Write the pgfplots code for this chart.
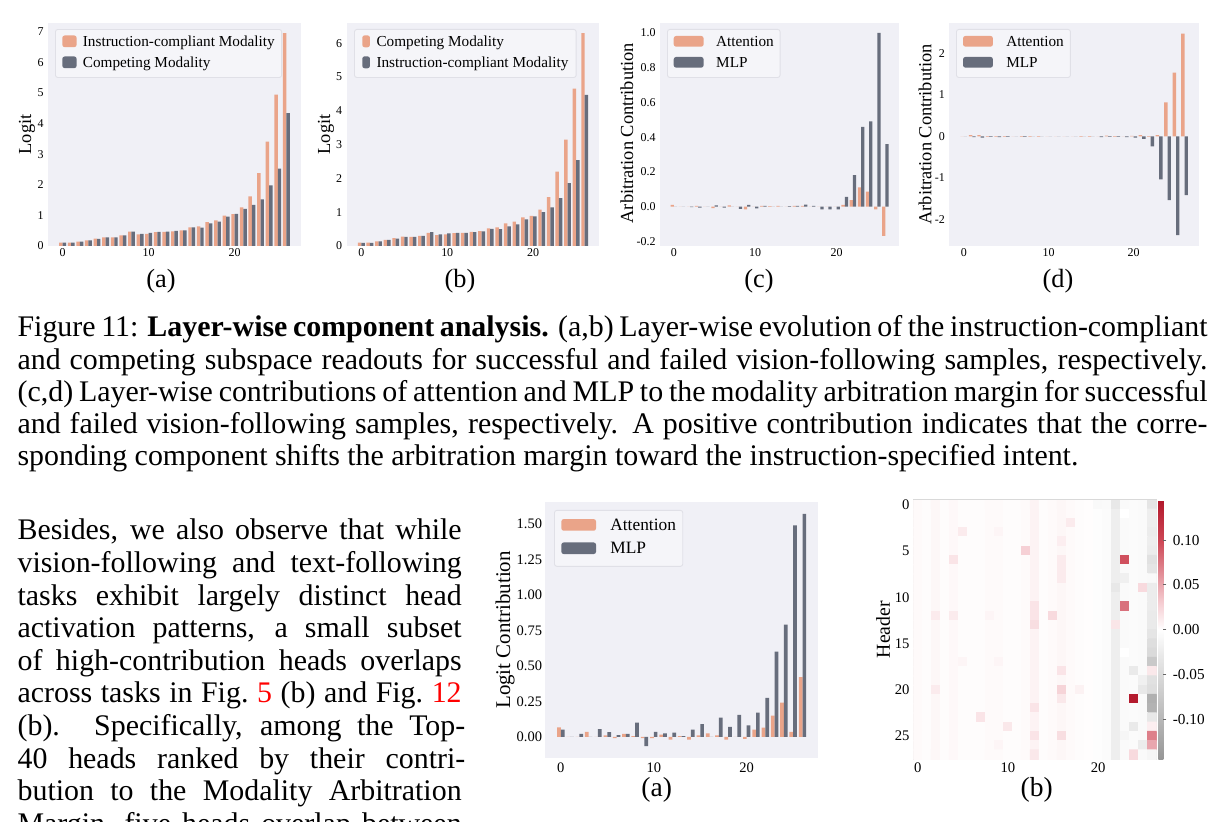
\documentclass[border=0pt]{standalone}
\usepackage{fontspec}
\setmainfont{Liberation Serif}
\usepackage{pgfplots}
\pgfplotsset{compat=1.18}
\definecolor{c1}{RGB}{234,164,137}
\definecolor{c2}{RGB}{103,109,124}
\definecolor{bgc}{RGB}{240,240,246}
\definecolor{legbg}{RGB}{245,245,249}
\definecolor{legedge}{RGB}{224,224,231}
\pgfplotsset{
 colormap={hm}{rgb255(0pt)=(150,150,150) rgb255(7.5pt)=(205,205,205) rgb255(11.5pt)=(232,232,232) rgb255(14.5pt)=(255,255,255) rgb255(17.5pt)=(245,205,210) rgb255(21.5pt)=(222,128,138) rgb255(24.5pt)=(205,70,85) rgb255(29pt)=(178,24,43)},
 barax/.style={
  scale only axis, anchor=south west,
  axis background/.style={fill=bgc},
  axis line style={draw=none},
  tick style={draw=none},
  major tick length=0pt,
  enlargelimits=false,
  xmin=-1.7, xmax=27.7,
  xtick={0,10,20},
  scaled y ticks=false,
  /pgf/number format/assume math mode=true,
  tick label style={font=\fontsize{4}{4.5}\selectfont},
  yticklabel style={anchor=east, inner sep=0pt, xshift=-1.3pt},
  xticklabel style={anchor=north, inner sep=0pt, yshift=-0.75pt},
  ylabel style={font=\fontsize{6.15}{7}\selectfont, anchor=center},
  legend cell align=left,
  legend style={draw=legedge, fill=legbg, line width=0.3pt, rounded corners=0.8pt,
    inner xsep=2.2pt, inner ysep=1.5pt, font=\fontsize{5.1}{6}\selectfont, row sep=0.97pt,
    cells={anchor=base west},
    nodes={inner xsep=0pt, inner ysep=0.6pt, text height=3.57pt, text depth=1.28pt},
    anchor=north west},
 },
}
\begin{document}
\begin{tikzpicture}
\useasboundingbox (0,0) rectangle (409.64pt,-274.88pt);
\begin{scope}[x=0.3344pt,y=-0.3344pt]
% caption
\node[anchor=base west, inner sep=0pt] at (17,336.7) {\makebox[397.9pt][s]{Figure 11: \textbf{Layer-wise component analysis.} (a,b) Layer-wise evolution of the instruction-compliant}};
\node[anchor=base west, inner sep=0pt] at (17,369.3) {\makebox[397.9pt][s]{and competing subspace readouts for successful and failed vision-following samples, respectively.}};
\node[anchor=base west, inner sep=0pt] at (17,401.7) {\makebox[397.9pt][s]{(c,d) Layer-wise contributions of attention and MLP to the modality arbitration margin for successful}};
\node[anchor=base west, inner sep=0pt] at (17,433.3) {\makebox[397.9pt][s]{and failed vision-following samples, respectively. A positive contribution indicates that the corre-}};
\node[anchor=base west, inner sep=0pt] at (17,465.7) {sponding component shifts the arbitration margin toward the instruction-specified intent.};
% body
\node[anchor=base west, inner sep=0pt] at (17,540.0) {\makebox[148.5pt][s]{Besides, we also observe that while}};
\node[anchor=base west, inner sep=0pt] at (17,572.6) {\makebox[148.5pt][s]{vision-following and text-following}};
\node[anchor=base west, inner sep=0pt] at (17,605.2) {\makebox[148.5pt][s]{tasks exhibit largely distinct head}};
\node[anchor=base west, inner sep=0pt] at (17,637.8) {\makebox[148.5pt][s]{activation patterns, a small subset}};
\node[anchor=base west, inner sep=0pt] at (17,670.4) {\makebox[148.5pt][s]{of high-contribution heads overlaps}};
\node[anchor=base west, inner sep=0pt] at (17,703.0) {\makebox[148.5pt][s]{across tasks in Fig.~\textcolor{red}{5} (b) and Fig.~\textcolor{red}{12}}};
\node[anchor=base west, inner sep=0pt] at (17,735.6) {\makebox[149.7pt][s]{(b). Specifically, among the Top-}};
\node[anchor=base west, inner sep=0pt] at (17,768.2) {\makebox[149.7pt][s]{40 heads ranked by their contri-}};
\node[anchor=base west, inner sep=0pt] at (17,800.8) {\makebox[148.5pt][s]{bution to the Modality Arbitration}};
\node[anchor=base west, inner sep=0pt] at (17,833.4) {\makebox[148.5pt][s]{Margin, five heads overlap between}};
% subcaptions
\node[font=\fontsize{8.8}{10}\selectfont] at (161,281) {(a)};
\node[font=\fontsize{8.8}{10}\selectfont] at (460,281) {(b)};
\node[font=\fontsize{8.8}{10}\selectfont] at (759,281) {(c)};
\node[font=\fontsize{8.8}{10}\selectfont] at (1058,281) {(d)};
\node[font=\fontsize{9.2}{10}\selectfont] at (656.7,790) {(a)};
\node[font=\fontsize{9.2}{10}\selectfont] at (1036.7,790) {(b)};
\end{scope}

% ---------- top (a)
\begin{axis}[barax, at={(16.05pt,-82.26pt)}, width=84.60pt, height=74.67pt,
 ymin=0, ymax=7.3, ytick={0,1,2,3,4,5,6,7},
 ylabel={Logit}, ylabel style={at={(axis description cs:-0.083,0.5)}},
 legend style={at={(0.0277,0.9718)}, inner xsep=2.3pt, /tikz/every odd column/.append style={column sep=2.1pt}},
 legend image code/.code={\draw[#1,draw=none] (0pt,-0.25pt) rectangle (4.78pt,3.66pt);},
]
\addplot[ybar, bar width=0.4, bar shift=-0.2, fill=c1, draw=none] coordinates {(0,0.11)(1,0.11)(2,0.14)(3,0.18)(4,0.24)(5,0.28)(6,0.28)(7,0.35)(8,0.47)(9,0.38)(10,0.40)(11,0.45)(12,0.46)(13,0.48)(14,0.51)(15,0.61)(16,0.64)(17,0.78)(18,0.84)(19,0.99)(20,1.04)(21,1.26)(22,1.62)(23,2.38)(24,3.41)(25,4.95)(26,6.96)};
\addplot[ybar, bar width=0.4, bar shift=0.2, fill=c2, draw=none] coordinates {(0,0.11)(1,0.11)(2,0.14)(3,0.18)(4,0.23)(5,0.28)(6,0.28)(7,0.35)(8,0.47)(9,0.40)(10,0.43)(11,0.46)(12,0.47)(13,0.49)(14,0.51)(15,0.61)(16,0.60)(17,0.74)(18,0.80)(19,0.96)(20,1.05)(21,1.21)(22,1.34)(23,1.52)(24,1.98)(25,2.53)(26,4.34)};
\legend{Instruction-compliant Modality, Competing Modality}
\end{axis}

% ---------- top (b)
\begin{axis}[barax, at={(115.94pt,-82.26pt)}, width=84.47pt, height=74.67pt,
 ymin=0, ymax=6.61, ytick={0,1,2,3,4,5,6},
 ylabel={Logit}, ylabel style={at={(axis description cs:-0.082,0.5)}},
 legend style={at={(0.029,0.9718)}, inner xsep=2.6pt, /tikz/every odd column/.append style={column sep=2.2pt}},
 legend image code/.code={\draw[#1,draw=none] (0pt,-0.3pt) rectangle (2.57pt,3.7pt);},
]
\addplot[ybar, bar width=0.4, bar shift=-0.2, fill=c1, draw=none] coordinates {(0,0.10)(1,0.10)(2,0.14)(3,0.18)(4,0.23)(5,0.28)(6,0.27)(7,0.30)(8,0.39)(9,0.32)(10,0.34)(11,0.38)(12,0.39)(13,0.42)(14,0.44)(15,0.52)(16,0.55)(17,0.67)(18,0.72)(19,0.85)(20,0.89)(21,1.08)(22,1.45)(23,2.20)(24,3.15)(25,4.66)(26,6.30)};
\addplot[ybar, bar width=0.4, bar shift=0.2, fill=c2, draw=none] coordinates {(0,0.09)(1,0.09)(2,0.14)(3,0.18)(4,0.22)(5,0.27)(6,0.27)(7,0.30)(8,0.41)(9,0.34)(10,0.37)(11,0.39)(12,0.39)(13,0.41)(14,0.43)(15,0.51)(16,0.50)(17,0.58)(18,0.64)(19,0.79)(20,0.88)(21,1.00)(22,1.14)(23,1.42)(24,1.86)(25,2.54)(26,4.47)};
\legend{Competing Modality, Instruction-compliant Modality}
\end{axis}

% ---------- top (c)
\begin{axis}[barax, at={(220.70pt,-82.26pt)}, width=80.02pt, height=74.67pt,
 ymin=-0.226, ymax=1.058, ytick={-0.2,0,0.2,0.4,0.6,0.8,1.0},
 yticklabel style={/pgf/number format/fixed, /pgf/number format/fixed zerofill, /pgf/number format/precision=1},
 ylabel={Arbitration Contribution}, ylabel style={at={(axis description cs:-0.139,0.505)}},
 legend style={at={(0.0293,0.9718)}, inner xsep=2.1pt, /tikz/every odd column/.append style={column sep=4.2pt}},
 legend image code/.code={\draw[#1,draw=none] (0pt,-0.09pt) rectangle (10pt,3.49pt);},
]
\addplot[ybar, bar width=0.4, bar shift=-0.2, fill=c1, draw=none] coordinates {(0,0.01)(1,0)(2,0)(3,0.005)(4,0)(5,-0.008)(6,0)(7,0.008)(8,0)(9,-0.015)(10,0)(11,0.005)(12,0.003)(13,0.005)(14,0)(15,0.005)(16,0.005)(17,0)(18,0)(19,0)(20,0)(21,0.01)(22,0.038)(23,0.111)(24,0.086)(25,-0.015)(26,-0.168)};
\addplot[ybar, bar width=0.4, bar shift=0.2, fill=c2, draw=none] coordinates {(0,0)(1,0)(2,-0.003)(3,-0.005)(4,0)(5,0.008)(6,-0.005)(7,0)(8,-0.012)(9,0.01)(10,-0.01)(11,0.005)(12,0)(13,0)(14,0.003)(15,0.005)(16,0.012)(17,0.005)(18,-0.015)(19,-0.015)(20,-0.015)(21,0.057)(22,0.182)(23,0.459)(24,0.49)(25,1.0)(26,0.36)};
\legend{Attention, MLP}
\end{axis}

% ---------- top (d)
\begin{axis}[barax, at={(317.45pt,-82.26pt)}, width=83.50pt, height=74.67pt,
 ymin=-2.645, ymax=2.745, ytick={-2,-1,0,1,2},
 ylabel={Arbitration Contribution}, ylabel style={at={(axis description cs:-0.097,0.5)}},
 legend style={at={(0.0268,0.9718)}, inner xsep=2.2pt, /tikz/every odd column/.append style={column sep=4.45pt}},
 legend image code/.code={\draw[#1,draw=none] (0pt,-0.09pt) rectangle (10pt,3.49pt);},
]
\addplot[ybar, bar width=0.4, bar shift=-0.2, fill=c1, draw=none] coordinates {(0,0)(1,0.03)(2,0.03)(3,-0.01)(4,-0.01)(5,-0.01)(6,0)(7,-0.01)(8,-0.01)(9,-0.01)(10,0)(11,0)(12,0)(13,0)(14,-0.01)(15,-0.01)(16,0)(17,0.02)(18,-0.01)(19,0)(20,0.01)(21,0.03)(22,-0.01)(23,0.03)(24,0.82)(25,1.54)(26,2.48)};
\addplot[ybar, bar width=0.4, bar shift=0.2, fill=c2, draw=none] coordinates {(0,0)(1,-0.02)(2,-0.03)(3,-0.01)(4,-0.02)(5,-0.01)(6,0)(7,-0.01)(8,0)(9,0)(10,0)(11,0)(12,0)(13,0)(14,0)(15,0)(16,-0.02)(17,-0.01)(18,-0.01)(19,-0.02)(20,-0.03)(21,-0.06)(22,-0.24)(23,-1.04)(24,-1.54)(25,-2.38)(26,-1.42)};
\legend{Attention, MLP}
\end{axis}

% ---------- bottom (a)
\begin{axis}[barax, at={(182.25pt,-253.37pt)}, width=91.39pt, height=85.41pt,
 ymin=-0.147, ymax=1.652, ytick={0,0.25,0.5,0.75,1,1.25,1.5},
 tick label style={font=\fontsize{4.85}{5.5}\selectfont},
 yticklabel style={xshift=0.53pt, /pgf/number format/fixed, /pgf/number format/fixed zerofill, /pgf/number format/precision=2},
 xticklabel style={yshift=-0.85pt},
 ylabel={Logit Contribution}, ylabel style={at={(axis description cs:-0.146,0.5)}, font=\fontsize{7}{8}\selectfont},
 legend style={at={(0.033,0.970)}, font=\fontsize{5.8}{7}\selectfont, inner xsep=2.3pt, inner ysep=2.1pt, row sep=1.09pt,
   nodes={text height=4.06pt, text depth=1.45pt}, /tikz/every odd column/.append style={column sep=4.8pt}},
 legend image code/.code={\draw[#1,draw=none] (0pt,-0.05pt) rectangle (11.6pt,3.85pt);},
]
\addplot[ybar, bar width=0.4, bar shift=-0.2, fill=c1, draw=none] coordinates {(0,0.066)(1,0)(2,0)(3,0.035)(4,0)(5,0.01)(6,-0.01)(7,0.02)(8,0.005)(9,-0.01)(10,-0.01)(11,0.015)(12,-0.02)(13,0.005)(14,-0.02)(15,0.01)(16,0.025)(17,0.01)(18,-0.02)(19,0)(20,-0.015)(21,0.05)(22,0.065)(23,0.15)(24,0.24)(25,0.035)(26,0.42)};
\addplot[ybar, bar width=0.4, bar shift=0.2, fill=c2, draw=none] coordinates {(0,0.05)(1,0)(2,0.02)(3,0)(4,0.055)(5,0.033)(6,0.012)(7,0.02)(8,0.1)(9,-0.065)(10,0.035)(11,0.025)(12,0.03)(13,0.005)(14,0.05)(15,0.09)(16,0)(17,0.135)(18,0.07)(19,0.155)(20,0.08)(21,0.17)(22,0.275)(23,0.6)(24,0.79)(25,1.49)(26,1.57)};
\legend{Attention, MLP}
\end{axis}

% ---------- heatmap (b)
\begin{axis}[scale only axis, anchor=south west, at={(305.41pt,-253.91pt)}, width=81.39pt, height=86.71pt,
 enlargelimits=false, xmin=-0.5, xmax=26.5, ymin=-0.5, ymax=27.5, y dir=reverse,
 xtick={0,10,20}, ytick={0,5,10,15,20,25},
 axis line style={draw=black!15, line width=0.4pt}, tick style={draw=none}, major tick length=0pt,
 /pgf/number format/assume math mode=true,
 tick label style={font=\fontsize{4.9}{5.5}\selectfont},
 yticklabel style={anchor=east, inner sep=0pt, xshift=-1.1pt},
 xticklabel style={anchor=north, inner sep=0pt, yshift=-1.07pt},
 ylabel={Header}, ylabel style={at={(axis description cs:-0.124,0.5)}, anchor=center, font=\fontsize{6.6}{7.5}\selectfont},
 colormap name=hm, point meta min=-0.145, point meta max=0.145,
 colorbar,
 colorbar style={at={(parent axis.north east)}, anchor=north west, xshift=-8.0pt, scale only axis, width=1.67pt,
   axis line style={draw=none}, ytick={-0.1,-0.05,0,0.05,0.1}, ytick pos=right, yticklabel pos=right,
   tick align=outside, major tick length=1pt, tick style={draw=black!60, line width=0.3pt},
   /pgf/number format/assume math mode=true,
   yticklabel style={font=\fontsize{5.1}{6}\selectfont, anchor=west, inner sep=0pt, xshift=2.0pt,
     /pgf/number format/fixed, /pgf/number format/fixed zerofill, /pgf/number format/precision=2}},
]
\addplot[matrix plot*, mesh/cols=27, mesh/rows=28, point meta=explicit] coordinates {
(0,0)[0.003] (1,0)[0.002] (2,0)[0.005] (3,0)[0.002] (4,0)[0.004] (5,0)[0.002] (6,0)[0.002] (7,0)[0.002] (8,0)[0.003] (9,0)[0.003] (10,0)[0.002] (11,0)[0.002] (12,0)[0.003] (13,0)[0.007] (14,0)[0.002] (15,0)[0.003] (16,0)[0.005] (17,0)[0.003] (18,0)[0.002] (19,0)[0.001] (20,0)[-0.008] (21,0)[-0.006] (22,0)[-0.03] (23,0)[-0.006] (24,0)[-0.005] (25,0)[-0.007] (26,0)[-0.035]
(0,1)[0.003] (1,1)[0.002] (2,1)[0.005] (3,1)[0.002] (4,1)[0.004] (5,1)[0.002] (6,1)[0.002] (7,1)[0.002] (8,1)[0.003] (9,1)[0.003] (10,1)[0.002] (11,1)[0.002] (12,1)[0.003] (13,1)[0.007] (14,1)[0.002] (15,1)[0.003] (16,1)[0.005] (17,1)[0.003] (18,1)[0.002] (19,1)[0.001] (20,1)[-0.003] (21,1)[-0.005] (22,1)[-0.022] (23,1)[0] (24,1)[-0.005] (25,1)[-0.007] (26,1)[-0.022]
(0,2)[0.003] (1,2)[0.002] (2,2)[0.005] (3,2)[0.002] (4,2)[0.004] (5,2)[0.002] (6,2)[0.002] (7,2)[0.002] (8,2)[0.003] (9,2)[0.003] (10,2)[0.002] (11,2)[0.002] (12,2)[0.003] (13,2)[0.007] (14,2)[0.002] (15,2)[0.003] (16,2)[0.005] (17,2)[0.012] (18,2)[0.002] (19,2)[0.001] (20,2)[-0.003] (21,2)[-0.005] (22,2)[-0.022] (23,2)[-0.006] (24,2)[-0.005] (25,2)[-0.007] (26,2)[-0.022]
(0,3)[0.003] (1,3)[0.002] (2,3)[0.005] (3,3)[0.002] (4,3)[0.004] (5,3)[0.012] (6,3)[0.002] (7,3)[0.002] (8,3)[0.003] (9,3)[0.006] (10,3)[0.002] (11,3)[0.002] (12,3)[0.003] (13,3)[0.007] (14,3)[0.002] (15,3)[0.003] (16,3)[0.005] (17,3)[0.003] (18,3)[0.002] (19,3)[0.001] (20,3)[-0.003] (21,3)[-0.005] (22,3)[-0.022] (23,3)[-0.006] (24,3)[-0.005] (25,3)[-0.007] (26,3)[-0.025]
(0,4)[0.003] (1,4)[0.002] (2,4)[0.005] (3,4)[0.002] (4,4)[0.004] (5,4)[0.002] (6,4)[0.002] (7,4)[0.002] (8,4)[0.003] (9,4)[0.003] (10,4)[0.002] (11,4)[0.002] (12,4)[0.003] (13,4)[0.007] (14,4)[0.002] (15,4)[0.003] (16,4)[0.01] (17,4)[0.003] (18,4)[0.002] (19,4)[0.001] (20,4)[-0.003] (21,4)[-0.005] (22,4)[-0.022] (23,4)[-0.006] (24,4)[-0.005] (25,4)[-0.007] (26,4)[-0.022]
(0,5)[0.003] (1,5)[0.002] (2,5)[0.005] (3,5)[0.002] (4,5)[0.004] (5,5)[0.002] (6,5)[0.002] (7,5)[0.002] (8,5)[0.003] (9,5)[0.003] (10,5)[0.002] (11,5)[0.002] (12,5)[0.028] (13,5)[0.007] (14,5)[0.002] (15,5)[0.003] (16,5)[0.005] (17,5)[0.003] (18,5)[0.002] (19,5)[0.001] (20,5)[-0.003] (21,5)[-0.005] (22,5)[-0.022] (23,5)[-0.006] (24,5)[-0.005] (25,5)[-0.007] (26,5)[-0.025]
(0,6)[0.003] (1,6)[0.002] (2,6)[0.005] (3,6)[0.002] (4,6)[0.016] (5,6)[0.002] (6,6)[0.002] (7,6)[0.002] (8,6)[0.003] (9,6)[0.003] (10,6)[0.002] (11,6)[0.002] (12,6)[0.003] (13,6)[0.007] (14,6)[0.002] (15,6)[0.003] (16,6)[0.012] (17,6)[0.003] (18,6)[0.002] (19,6)[0.001] (20,6)[-0.003] (21,6)[-0.005] (22,6)[-0.022] (23,6)[0.095] (24,6)[-0.005] (25,6)[-0.007] (26,6)[-0.04]
(0,7)[0.003] (1,7)[0.002] (2,7)[0.005] (3,7)[0.002] (4,7)[0.004] (5,7)[0.002] (6,7)[0.002] (7,7)[0.002] (8,7)[0.003] (9,7)[0.003] (10,7)[0.002] (11,7)[0.002] (12,7)[0.003] (13,7)[0.007] (14,7)[0.002] (15,7)[0.003] (16,7)[0.012] (17,7)[0.003] (18,7)[0.002] (19,7)[0.001] (20,7)[-0.003] (21,7)[-0.005] (22,7)[-0.022] (23,7)[-0.006] (24,7)[-0.005] (25,7)[-0.007] (26,7)[-0.035]
(0,8)[0.003] (1,8)[0.002] (2,8)[0.005] (3,8)[0.002] (4,8)[0.004] (5,8)[0.002] (6,8)[0.002] (7,8)[0.002] (8,8)[0.003] (9,8)[0.003] (10,8)[0.002] (11,8)[0.002] (12,8)[0.003] (13,8)[0.007] (14,8)[0.002] (15,8)[0.003] (16,8)[0.012] (17,8)[0.003] (18,8)[0.002] (19,8)[0.001] (20,8)[-0.003] (21,8)[-0.005] (22,8)[-0.022] (23,8)[-0.02] (24,8)[-0.005] (25,8)[-0.007] (26,8)[-0.008]
(0,9)[0.003] (1,9)[0.002] (2,9)[0.005] (3,9)[0.002] (4,9)[0.004] (5,9)[0.002] (6,9)[0.002] (7,9)[0.002] (8,9)[0.003] (9,9)[0.003] (10,9)[0.002] (11,9)[0.002] (12,9)[0.003] (13,9)[0.007] (14,9)[0.002] (15,9)[0.003] (16,9)[0.005] (17,9)[0.003] (18,9)[0.002] (19,9)[0.001] (20,9)[-0.003] (21,9)[-0.005] (22,9)[-0.03] (23,9)[-0.006] (24,9)[-0.005] (25,9)[0.022] (26,9)[-0.025]
(0,10)[0.003] (1,10)[0.002] (2,10)[0.005] (3,10)[0.002] (4,10)[0.004] (5,10)[0.002] (6,10)[0.002] (7,10)[0.002] (8,10)[0.003] (9,10)[0.003] (10,10)[0.002] (11,10)[0.002] (12,10)[0.003] (13,10)[0.007] (14,10)[0.002] (15,10)[0.003] (16,10)[0.005] (17,10)[0.003] (18,10)[0.002] (19,10)[0.001] (20,10)[-0.003] (21,10)[-0.005] (22,10)[-0.022] (23,10)[-0.006] (24,10)[-0.005] (25,10)[-0.007] (26,10)[-0.025]
(0,11)[0.003] (1,11)[0.002] (2,11)[0.005] (3,11)[0.002] (4,11)[0.004] (5,11)[0.002] (6,11)[0.002] (7,11)[0.002] (8,11)[0.003] (9,11)[0.003] (10,11)[0.002] (11,11)[0.002] (12,11)[0.003] (13,11)[0.016] (14,11)[0.002] (15,11)[0.003] (16,11)[0.005] (17,11)[0.003] (18,11)[0.002] (19,11)[0.001] (20,11)[-0.003] (21,11)[-0.005] (22,11)[-0.022] (23,11)[0.078] (24,11)[-0.005] (25,11)[-0.007] (26,11)[-0.025]
(0,12)[0.003] (1,12)[0.002] (2,12)[0.012] (3,12)[0.002] (4,12)[0.012] (5,12)[0.002] (6,12)[0.002] (7,12)[0.002] (8,12)[0.006] (9,12)[0.003] (10,12)[0.002] (11,12)[0.002] (12,12)[0.003] (13,12)[0.016] (14,12)[0.002] (15,12)[0.022] (16,12)[0.005] (17,12)[0.003] (18,12)[0.002] (19,12)[0.001] (20,12)[-0.003] (21,12)[-0.005] (22,12)[-0.022] (23,12)[-0.006] (24,12)[-0.005] (25,12)[-0.007] (26,12)[-0.028]
(0,13)[0.003] (1,13)[0.002] (2,13)[0.005] (3,13)[0.002] (4,13)[0.004] (5,13)[0.002] (6,13)[0.002] (7,13)[0.002] (8,13)[0.003] (9,13)[0.003] (10,13)[0.002] (11,13)[0.002] (12,13)[0.003] (13,13)[0.02] (14,13)[0.002] (15,13)[0.003] (16,13)[0.005] (17,13)[0.003] (18,13)[0.002] (19,13)[0.001] (20,13)[-0.003] (21,13)[-0.005] (22,13)[0.015] (23,13)[-0.006] (24,13)[-0.005] (25,13)[-0.007] (26,13)[-0.028]
(0,14)[0.003] (1,14)[0.002] (2,14)[0.005] (3,14)[0.002] (4,14)[0.004] (5,14)[0.002] (6,14)[0.002] (7,14)[0.002] (8,14)[0.003] (9,14)[0.003] (10,14)[0.002] (11,14)[0.002] (12,14)[0.003] (13,14)[0.007] (14,14)[0.002] (15,14)[0.003] (16,14)[0.005] (17,14)[0.003] (18,14)[0.002] (19,14)[0.001] (20,14)[-0.003] (21,14)[-0.005] (22,14)[-0.022] (23,14)[-0.006] (24,14)[-0.005] (25,14)[-0.007] (26,14)[-0.035]
(0,15)[0.003] (1,15)[0.002] (2,15)[0.005] (3,15)[0.002] (4,15)[0.004] (5,15)[0.002] (6,15)[0.002] (7,15)[0.002] (8,15)[0.003] (9,15)[0.003] (10,15)[0.002] (11,15)[0.002] (12,15)[0.003] (13,15)[0.007] (14,15)[0.002] (15,15)[0.003] (16,15)[0.005] (17,15)[0.003] (18,15)[0.002] (19,15)[0.001] (20,15)[-0.003] (21,15)[-0.005] (22,15)[-0.022] (23,15)[-0.006] (24,15)[-0.005] (25,15)[-0.007] (26,15)[-0.045]
(0,16)[0.003] (1,16)[0.002] (2,16)[0.005] (3,16)[0.002] (4,16)[0.004] (5,16)[0.002] (6,16)[0.002] (7,16)[0.002] (8,16)[0.003] (9,16)[0.003] (10,16)[0.002] (11,16)[0.002] (12,16)[0.003] (13,16)[0.007] (14,16)[0.002] (15,16)[0.003] (16,16)[0.005] (17,16)[0.003] (18,16)[0.002] (19,16)[0.001] (20,16)[-0.003] (21,16)[-0.005] (22,16)[-0.022] (23,16)[0] (24,16)[-0.005] (25,16)[-0.007] (26,16)[-0.05]
(0,17)[0.003] (1,17)[0.002] (2,17)[0.005] (3,17)[0.002] (4,17)[0.004] (5,17)[0.006] (6,17)[0.002] (7,17)[0.002] (8,17)[0.003] (9,17)[0.006] (10,17)[0.002] (11,17)[0.002] (12,17)[0.003] (13,17)[0.007] (14,17)[0.002] (15,17)[0.003] (16,17)[0.005] (17,17)[0.003] (18,17)[0.002] (19,17)[0.001] (20,17)[-0.003] (21,17)[-0.005] (22,17)[-0.022] (23,17)[-0.006] (24,17)[-0.005] (25,17)[-0.007] (26,17)[-0.075]
(0,18)[0.003] (1,18)[0.002] (2,18)[0.005] (3,18)[0.002] (4,18)[0.004] (5,18)[0.002] (6,18)[0.002] (7,18)[0.002] (8,18)[0.003] (9,18)[0.003] (10,18)[0.002] (11,18)[0.002] (12,18)[0.003] (13,18)[0.007] (14,18)[0.002] (15,18)[0.003] (16,18)[0.016] (17,18)[0.003] (18,18)[0.002] (19,18)[0.001] (20,18)[-0.003] (21,18)[-0.005] (22,18)[-0.022] (23,18)[-0.006] (24,18)[-0.028] (25,18)[-0.007] (26,18)[0.014]
(0,19)[0.003] (1,19)[0.002] (2,19)[0.005] (3,19)[0.002] (4,19)[0.004] (5,19)[0.002] (6,19)[0.002] (7,19)[0.002] (8,19)[0.003] (9,19)[0.003] (10,19)[0.002] (11,19)[0.002] (12,19)[0.003] (13,19)[0.007] (14,19)[0.002] (15,19)[0.003] (16,19)[0.005] (17,19)[0.003] (18,19)[0.002] (19,19)[0.001] (20,19)[-0.003] (21,19)[-0.005] (22,19)[-0.022] (23,19)[-0.006] (24,19)[-0.005] (25,19)[-0.02] (26,19)[-0.04]
(0,20)[0.003] (1,20)[0.002] (2,20)[0.012] (3,20)[0.002] (4,20)[0.004] (5,20)[0.002] (6,20)[0.002] (7,20)[0.002] (8,20)[0.003] (9,20)[0.003] (10,20)[0.002] (11,20)[0.002] (12,20)[0.003] (13,20)[0.007] (14,20)[0.002] (15,20)[0.003] (16,20)[0.026] (17,20)[0.003] (18,20)[0.008] (19,20)[0.001] (20,20)[-0.003] (21,20)[-0.005] (22,20)[-0.022] (23,20)[-0.006] (24,20)[-0.005] (25,20)[-0.03] (26,20)[-0.045]
(0,21)[0.003] (1,21)[0.002] (2,21)[0.005] (3,21)[0.002] (4,21)[0.004] (5,21)[0.002] (6,21)[0.002] (7,21)[0.002] (8,21)[0.003] (9,21)[0.003] (10,21)[0.002] (11,21)[0.002] (12,21)[0.003] (13,21)[0.007] (14,21)[0.002] (15,21)[0.003] (16,21)[0.014] (17,21)[0.003] (18,21)[0.002] (19,21)[0.001] (20,21)[-0.003] (21,21)[-0.005] (22,21)[-0.022] (23,21)[-0.006] (24,21)[0.142] (25,21)[-0.007] (26,21)[-0.11]
(0,22)[0.003] (1,22)[0.002] (2,22)[0.005] (3,22)[0.002] (4,22)[0.004] (5,22)[0.002] (6,22)[0.002] (7,22)[0.002] (8,22)[0.003] (9,22)[0.003] (10,22)[0.002] (11,22)[0.002] (12,22)[0.003] (13,22)[0.016] (14,22)[0.002] (15,22)[0.003] (16,22)[0.005] (17,22)[0.003] (18,22)[0.002] (19,22)[0.001] (20,22)[-0.003] (21,22)[-0.005] (22,22)[-0.022] (23,22)[-0.006] (24,22)[-0.005] (25,22)[-0.007] (26,22)[-0.105]
(0,23)[0.003] (1,23)[0.002] (2,23)[0.005] (3,23)[0.002] (4,23)[0.004] (5,23)[0.002] (6,23)[0.002] (7,23)[0.016] (8,23)[0.003] (9,23)[0.003] (10,23)[0.002] (11,23)[0.002] (12,23)[0.003] (13,23)[0.007] (14,23)[0.002] (15,23)[0.003] (16,23)[0.005] (17,23)[0.003] (18,23)[0.002] (19,23)[0.001] (20,23)[-0.003] (21,23)[-0.005] (22,23)[-0.022] (23,23)[-0.006] (24,23)[-0.005] (25,23)[-0.007] (26,23)[-0.03]
(0,24)[0.003] (1,24)[0.002] (2,24)[0.005] (3,24)[0.002] (4,24)[0.004] (5,24)[0.002] (6,24)[0.002] (7,24)[0.002] (8,24)[0.003] (9,24)[0.003] (10,24)[0.014] (11,24)[0.002] (12,24)[0.003] (13,24)[0.007] (14,24)[0.002] (15,24)[0.003] (16,24)[0.005] (17,24)[0.003] (18,24)[0.002] (19,24)[0.001] (20,24)[-0.003] (21,24)[-0.005] (22,24)[-0.022] (23,24)[-0.006] (24,24)[-0.028] (25,24)[-0.007] (26,24)[0.01]
(0,25)[0.003] (1,25)[0.002] (2,25)[0.005] (3,25)[0.002] (4,25)[0.004] (5,25)[0.002] (6,25)[0.002] (7,25)[0.002] (8,25)[0.003] (9,25)[0.003] (10,25)[0.002] (11,25)[0.002] (12,25)[0.003] (13,25)[0.016] (14,25)[0.002] (15,25)[0.003] (16,25)[0.02] (17,25)[0.003] (18,25)[0.002] (19,25)[0.001] (20,25)[-0.003] (21,25)[-0.005] (22,25)[-0.022] (23,25)[-0.012] (24,25)[-0.005] (25,25)[-0.007] (26,25)[0.07]
(0,26)[0.003] (1,26)[0.002] (2,26)[0.005] (3,26)[0.002] (4,26)[0.004] (5,26)[0.002] (6,26)[0.002] (7,26)[0.002] (8,26)[0.003] (9,26)[0.006] (10,26)[0.002] (11,26)[0.002] (12,26)[0.003] (13,26)[0.007] (14,26)[0.002] (15,26)[0.003] (16,26)[0.005] (17,26)[0.003] (18,26)[0.002] (19,26)[0.001] (20,26)[-0.003] (21,26)[-0.005] (22,26)[-0.022] (23,26)[-0.006] (24,26)[-0.005] (25,26)[-0.025] (26,26)[0.05]
(0,27)[0.003] (1,27)[0.002] (2,27)[0.005] (3,27)[0.002] (4,27)[0.004] (5,27)[0.002] (6,27)[0.002] (7,27)[0.002] (8,27)[0.003] (9,27)[0.003] (10,27)[0.002] (11,27)[0.002] (12,27)[0.003] (13,27)[0.014] (14,27)[0.002] (15,27)[0.003] (16,27)[0.005] (17,27)[0.003] (18,27)[0.002] (19,27)[0.001] (20,27)[-0.003] (21,27)[-0.005] (22,27)[-0.022] (23,27)[-0.006] (24,27)[0.022] (25,27)[-0.007] (26,27)[-0.012]
};
\end{axis}
\end{tikzpicture}
\end{document}
